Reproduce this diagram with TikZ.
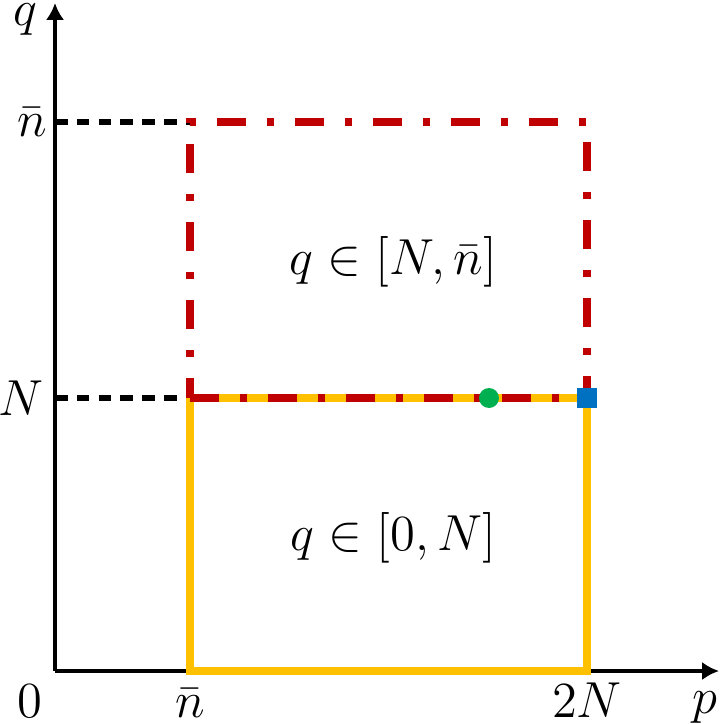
\documentclass[tikz,border=0pt]{standalone}
\usepackage{tikz}
\usetikzlibrary{arrows.meta,calc}
\definecolor{boxred}{HTML}{C00000}
\definecolor{boxyellow}{HTML}{FFC000}
\definecolor{dotgreen}{HTML}{00B050}
\definecolor{markblue}{HTML}{0070C0}
\tikzset{
    axisline/.style={line width=1.2pt, -{Latex[length=4.8pt,width=5.2pt]}},
    guideline/.style={line width=1.5pt, dash pattern=on 3.6pt off 2.6pt},
    lowbox/.style={line width=2.1pt, boxyellow},
    highbox/.style={line width=2.2pt, boxred, dash pattern=on 8.2pt off 6pt on 2pt off 6pt},
    ticklabel/.style={font=\fontsize{15}{18}\selectfont, inner sep=1pt},
    regionlabel/.style={font=\fontsize{15}{18}\selectfont}
}

\begin{document}
\begin{tikzpicture}
    \useasboundingbox (-0.55,-0.53) rectangle (6.65,6.71);

    \coordinate (O) at (0,0);
    \coordinate (pend) at (6.64,0);
    \coordinate (qend) at (0,6.68);
    \coordinate (nbarp) at (1.35,0);
    \coordinate (twoNp) at (5.32,0);
    \coordinate (Nq) at (0,2.73);
    \coordinate (nbarq) at (0,5.49);
    \coordinate (lowleft) at (1.35,2.73);
    \coordinate (lowright) at (5.32,2.73);
    \coordinate (topleft) at (1.35,5.49);
    \coordinate (topright) at (5.32,5.49);

    % axes
    \draw[axisline] (O) -- (pend);
    \draw[axisline] (O) -- (qend);

    % guides
    \draw[guideline] (nbarq) -- (topleft);
    \draw[guideline] (Nq) -- (lowleft);

    % regions
    \draw[lowbox] (nbarp) -- (lowleft) -- (lowright) -- (twoNp) -- cycle;
    \draw[highbox] (lowleft) -- (lowright) -- (topright) -- (topleft) -- cycle;

    \fill[dotgreen] (4.34,2.73) circle (0.1);
    \node[fill=markblue, minimum size=0.2cm, inner sep=0pt] (corner) at (lowright) {};

    % labels
    \node[ticklabel, anchor=base] (zerolabel) at (-0.25,-0.46) {$0$};
    \node[ticklabel, anchor=base] (nbarplabel) at ($(nbarp)+(0,-0.46)$) {$\bar n$};
    \node[ticklabel, anchor=base] (twoNlabel) at ($(twoNp)+(0,-0.46)$) {$2N$};
    \node[ticklabel, anchor=base] (plabel) at (6.5,-0.42) {$p$};
    \node[ticklabel, anchor=east] (nbarqlabel) at ($(nbarq)+(-0.04,0)$) {$\bar n$};
    \node[ticklabel, anchor=east] (Nqlabel) at ($(Nq)+(-0.07,0)$) {$N$};
    \node[ticklabel] (qlabel) at (-0.3,6.51) {$q$};

    \node[regionlabel] (toplabel) at ($(lowleft)!0.5!(topright)+(0.05,-0.02)$) {$q\in[N,\bar n]$};
    \node[regionlabel] (lowlabel) at ($(nbarp)!0.5!(lowright)+(0.05,-0.03)$) {$q\in[0,N]$};
\end{tikzpicture}
\end{document}
